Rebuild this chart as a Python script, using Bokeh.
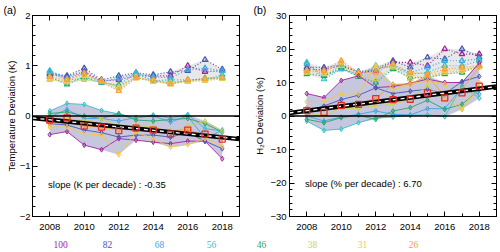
import numpy as np
from bokeh.plotting import figure
from bokeh.layouts import row, column
from bokeh.models import LinearAxis, Span, Label, SingleIntervalTicker, Range1d, Title
from bokeh.embed import file_html
from bokeh.resources import INLINE

years = [2008, 2009, 2010, 2011, 2012, 2013, 2014, 2015, 2016, 2017, 2018]
levels = ["100", "82", "68", "56", "46", "38", "31", "26"]
colors = ["#a0259a", "#4656b0", "#3aa6e6", "#36c0c8", "#2aa56a", "#cdd34e", "#f4c64c", "#f4a23a"]

# Panel (a): temperature deviation (K)
temp_diamonds = {
    "100": [-0.37, -0.31, -0.58, -0.67, -0.45, -0.48, -0.52, -0.55, -0.50, -0.50, -0.85],
    "82":  [-0.15, -0.18, -0.28, -0.33, -0.42, -0.38, -0.38, -0.42, -0.33, -0.50, -0.65],
    "68":  [-0.02, 0.13, -0.05, -0.05, -0.10, -0.03, 0.00, -0.12, 0.00, -0.45, -0.28],
    "56":  [0.10, 0.25, 0.23, 0.11, 0.04, -0.04, 0.02, -0.04, 0.03, -0.25, -0.30],
    "46":  [0.05, 0.08, 0.00, -0.05, 0.05, -0.08, -0.10, -0.07, -0.05, -0.15, -0.32],
    "38":  [-0.10, -0.05, -0.10, -0.05, -0.20, -0.18, -0.22, -0.33, -0.20, -0.10, -0.30],
    "31":  [-0.22, -0.22, -0.35, -0.38, -0.77, -0.32, -0.45, -0.62, -0.57, -0.45, -0.60],
    "26":  [-0.15, -0.12, -0.20, -0.22, -0.28, -0.20, -0.28, -0.30, -0.27, -0.38, -0.45],
}
temp_triangles = {
    "100": [0.82, 0.78, 0.88, 0.70, 0.72, 0.80, 0.80, 0.80, 1.00, 0.88, 0.90],
    "82":  [0.85, 0.80, 0.95, 0.72, 0.80, 0.86, 0.82, 0.88, 0.90, 1.12, 0.93],
    "68":  [0.90, 0.75, 0.85, 0.68, 0.75, 0.84, 0.78, 0.76, 0.92, 0.95, 0.90],
    "56":  [0.88, 0.72, 0.75, 0.66, 0.62, 0.85, 0.70, 0.72, 0.72, 0.72, 0.82],
    "46":  [0.78, 0.63, 0.78, 0.67, 0.60, 0.76, 0.70, 0.66, 0.70, 0.75, 0.76],
    "38":  [0.72, 0.68, 0.72, 0.68, 0.58, 0.76, 0.68, 0.64, 0.68, 0.70, 0.74],
    "31":  [0.74, 0.70, 0.80, 0.70, 0.55, 0.78, 0.68, 0.66, 0.70, 0.72, 0.75],
    "26":  [0.78, 0.72, 0.85, 0.68, 0.50, 0.75, 0.72, 0.63, 0.72, 0.74, 0.76],
}
temp_mean = [-0.08, -0.04, -0.20, -0.22, -0.29, -0.24, -0.28, -0.36, -0.28, -0.36, -0.46]
temp_trend_x = [2007, 2019]
temp_trend_y = [-0.04, -0.46]

# Panel (b): H2O deviation (%)
h2o_diamonds = {
    "100": [6.7, 5.5, 10.6, 12.0, 8.5, 8.8, 9.8, 11.0, 10.0, 10.0, 15.8],
    "82":  [1.5, 3.0, 4.9, 6.2, 8.4, 6.7, 7.4, 8.0, 6.6, 10.3, 11.8],
    "68":  [0.0, -1.5, -0.3, 0.5, 1.5, 0.5, 0.3, 2.2, 2.2, 8.5, 6.5],
    "56":  [-1.5, -4.3, -3.9, -2.0, -0.5, -0.3, 0.2, 0.3, -0.2, 9.0, 5.3],
    "46":  [-1.0, -2.0, -0.5, 0.2, -1.0, 1.5, 2.5, 4.7, 2.0, 3.5, 7.8],
    "38":  [0.8, 0.2, 2.3, 2.3, 3.0, 3.5, 5.0, 9.0, 4.8, 2.0, 8.5],
    "31":  [4.3, 4.4, 6.6, 6.6, 15.0, 7.8, 9.5, 10.5, 9.5, 2.0, 10.0],
    "26":  [2.5, 2.0, 3.3, 3.7, 5.2, 9.5, 9.5, 12.0, 6.0, 8.0, 14.6],
}
h2o_triangles = {
    "100": [14.0, 13.8, 15.0, 13.0, 13.5, 16.0, 16.0, 15.0, 20.0, 18.5, 18.5],
    "82":  [14.5, 14.5, 15.2, 13.2, 14.0, 16.5, 14.5, 17.5, 17.0, 20.0, 17.5],
    "68":  [15.5, 12.0, 14.0, 12.5, 14.0, 15.0, 13.0, 14.5, 16.5, 16.5, 17.0],
    "56":  [16.0, 11.0, 14.0, 12.0, 15.0, 14.5, 12.5, 13.0, 15.0, 15.0, 16.5],
    "46":  [12.5, 12.0, 14.5, 11.7, 10.0, 14.0, 11.5, 11.5, 12.5, 13.0, 15.0],
    "38":  [13.0, 12.5, 15.0, 12.0, 11.0, 14.5, 11.0, 12.0, 13.0, 13.5, 15.0],
    "31":  [13.5, 13.0, 16.0, 12.5, 14.5, 15.0, 12.5, 11.0, 13.5, 14.0, 14.5],
    "26":  [13.5, 13.5, 16.5, 13.0, 13.0, 15.5, 13.0, 12.5, 14.0, 14.5, 15.0],
}
h2o_mean = [1.6, 1.1, 3.2, 3.5, 5.2, 4.9, 5.0, 6.9, 5.4, 6.9, 8.9]
h2o_trend_x = [2007, 2019]
h2o_trend_y = [0.9, 8.8]

# horizontal pixel positions of the level labels row
label_px = [60, 107, 159, 211, 261, 312, 362, 413]

FONT = "Liberation Sans"


def style_axis(ax, labels=True):
    ax.major_tick_in = 5
    ax.major_tick_out = 0
    ax.minor_tick_in = 3
    ax.minor_tick_out = 0
    ax.axis_line_color = "black"
    ax.major_tick_line_color = "black"
    ax.minor_tick_line_color = "black"
    ax.major_label_text_font = FONT
    ax.major_label_text_color = "black"
    ax.axis_label_text_font = FONT
    ax.axis_label_text_font_style = "normal"
    ax.axis_label_text_font_size = "9.5px"
    ax.axis_label_text_color = "black"
    if labels:
        ax.major_label_text_font_size = "9.5px"
    else:
        ax.major_label_text_font_size = "0px"
        ax.major_label_standoff = 0
        ax.major_label_text_color = None


def make_panel(tag, ylab, yr, yint, diam, tri, mean, tx, ty, slope_txt, sy, bl, br, lstand, astand):
    p = figure(width=250, height=236, output_backend="svg", toolbar_location=None,
               x_range=Range1d(2007, 2019), y_range=Range1d(-yr, yr),
               min_border_left=bl, min_border_right=br, min_border_top=15, min_border_bottom=20,
               x_axis_location=None, y_axis_location=None)
    p.title = Title(text=tag, align="left", offset=-(bl - 3), standoff=0,
                    text_font=FONT, text_font_size="10.5px", text_font_style="normal",
                    text_color="black")
    p.grid.visible = False
    p.outline_line_color = "black"
    p.background_fill_color = "white"
    p.border_fill_color = "white"

    bx = LinearAxis(ticker=SingleIntervalTicker(interval=2, num_minor_ticks=2))
    style_axis(bx)
    bx.major_label_standoff = 7
    p.add_layout(bx, "below")
    ax_top = LinearAxis(ticker=SingleIntervalTicker(interval=2, num_minor_ticks=2))
    style_axis(ax_top, labels=False)
    p.add_layout(ax_top, "above")
    ly = LinearAxis(ticker=SingleIntervalTicker(interval=yint, num_minor_ticks=5), axis_label=ylab)
    style_axis(ly)
    ly.major_label_standoff = lstand
    ly.axis_label_standoff = astand
    p.add_layout(ly, "left")
    ry = LinearAxis(ticker=SingleIntervalTicker(interval=yint, num_minor_ticks=5))
    style_axis(ry, labels=False)
    p.add_layout(ry, "right")

    x = np.array(years, dtype=float)
    D = np.array([diam[k] for k in levels])
    T = np.array([tri[k] for k in levels])
    p.varea(x=x, y1=T.min(axis=0), y2=T.max(axis=0), fill_color="#e8e8e8")
    p.varea(x=x, y1=D.min(axis=0), y2=D.max(axis=0), fill_color="#c6c6de")

    p.add_layout(Span(location=0, dimension="width", line_color="black", line_width=1.5))

    for k, c in zip(levels, colors):
        p.line(x, tri[k], line_color=c, line_width=1.2, line_dash="1 2")
        p.scatter(x, tri[k], marker="triangle", size=5.5, line_color=c, line_width=1.2,
                  fill_color=c, fill_alpha=0.15)
    for k, c in zip(levels, colors):
        p.line(x, diam[k], line_color=c, line_width=0.9)
        p.scatter(x, diam[k], marker="diamond", size=5, line_color=c, line_width=1,
                  fill_color=c, fill_alpha=0.3)

    p.line(tx, ty, line_color="black", line_width=4.5)
    p.line(tx, ty, line_color="white", line_width=1.3, line_dash="4 4")
    p.scatter(x, mean, marker="square", size=6, line_color="#f02828", line_width=1.3,
              fill_color=None)

    p.add_layout(Label(x=2007.9, y=sy, text=slope_txt, text_font=FONT, text_font_size="9.5px",
                       text_baseline="middle", text_color="black"))
    return p


pa = make_panel("(a)", "Temperature Deviation (K)", 2, 1, temp_diamonds,
                temp_triangles, temp_mean, temp_trend_x, temp_trend_y,
                "slope (K per decade) : -0.35", -1.36, 32, 11, 2, 0)
pb = make_panel("(b)", "H\u2082O Deviation (%)", 30, 10, h2o_diamonds,
                h2o_triangles, h2o_mean, h2o_trend_x, h2o_trend_y,
                "slope (% per decade) :  6.70", -20.0, 39, 4, 3, 2)

strip = figure(width=500, height=16, output_backend="svg", toolbar_location=None,
               x_range=Range1d(0, 500), y_range=Range1d(0, 16),
               min_border_left=0, min_border_right=0, min_border_top=0, min_border_bottom=0,
               x_axis_location=None, y_axis_location=None)
strip.grid.visible = False
strip.outline_line_color = None
strip.text(x=label_px, y=[8] * len(label_px), text=levels, text_color=colors,
           text_font=FONT, text_font_size="9.5px", text_align="center", text_baseline="middle")

layout = column(row(pa, pb, spacing=0), strip, spacing=0)
open("out.html", "w").write(file_html(layout, INLINE))
